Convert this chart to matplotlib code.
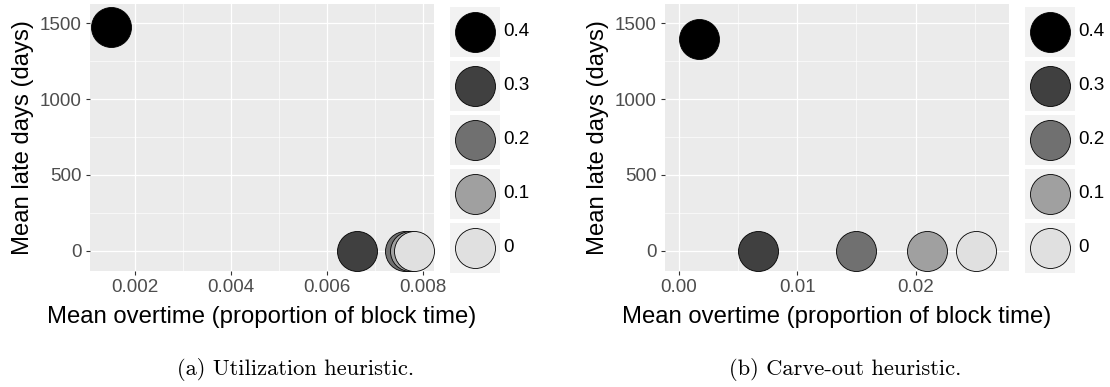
import matplotlib
matplotlib.use("Agg")
import matplotlib.pyplot as plt
from matplotlib.patches import Rectangle

# Data (fill level -> point)
levels = ["0.4", "0.3", "0.2", "0.1", "0"]
fills = ["#000000", "#404040", "#707070", "#A0A0A0", "#E0E0E0"]

util_overtime = [0.0015, 0.00661, 0.00762, 0.00772, 0.0078]
util_late = [1478, 0, 0, 0, 0]

carve_overtime = [0.00169, 0.0067, 0.0150, 0.0210, 0.0251]
carve_late = [1398, 0, 0, 0, 0]

util_xticks = [0.002, 0.004, 0.006, 0.008]
util_xlabels = ["0.002", "0.004", "0.006", "0.008"]
util_xminor = [0.003, 0.005, 0.007]
carve_xticks = [0.00, 0.01, 0.02]
carve_xlabels = ["0.00", "0.01", "0.02"]
carve_xminor = [0.005, 0.015, 0.025]
yticks = [0, 500, 1000, 1500]
yminor = [250, 750, 1250]

captions = ["(a) Utilization heuristic.", "(b) Carve-out heuristic."]

W, H = 1110, 387
plt.rcParams["font.family"] = ["Liberation Sans", "DejaVu Sans"]

fig = plt.figure(figsize=(W / 100, H / 100), dpi=100)
fig.patch.set_facecolor("white")

MS = 829  # marker area in pt^2 (about 40 px across)
TICK_FS = 13.6
TITLE_FS = 17.2


def px_axes(left, top, right, bottom):
    return fig.add_axes([left / W, 1 - bottom / H, (right - left) / W, (bottom - top) / H])


def draw_panel(ax, xs, ys, xticks, xlabels, xminor, xlim):
    ax.set_facecolor("#EBEBEB")
    for s in ax.spines.values():
        s.set_visible(False)
    ax.set_xlim(*xlim)
    ax.set_ylim(-132, 1627)
    ax.set_xticks(xticks)
    ax.set_xticklabels(xlabels)
    ax.set_xticks(xminor, minor=True)
    ax.set_yticks(yticks)
    ax.set_yticks(yminor, minor=True)
    ax.grid(which="major", color="white", linewidth=0.9)
    ax.grid(which="minor", color="white", linewidth=0.45)
    ax.set_axisbelow(True)
    ax.tick_params(which="major", length=3, width=0.8, color="#333333",
                   labelcolor="#4D4D4D", labelsize=TICK_FS, pad=3)
    ax.tick_params(which="minor", length=0)
    for x, y, c in zip(xs, ys, fills):
        ax.scatter([x], [y], s=MS, c=c, edgecolors="black", linewidths=0.6, zorder=3)
    ax.set_xlabel("Mean overtime (proportion of block time)", fontsize=TITLE_FS, labelpad=7)
    ax.set_ylabel("Mean late days (days)", fontsize=TITLE_FS, labelpad=4)


def draw_legend(lax):
    lax.set_xlim(0, 1)
    lax.set_ylim(len(levels) - 4 / 54, 0)
    lax.axis("off")
    for i, (lab, c) in enumerate(zip(levels, fills)):
        lax.add_patch(Rectangle((0, i), 1, 50 / 54, facecolor="#F2F2F2", edgecolor="none"))
        lax.scatter([0.5], [i + 25 / 54], s=MS, c=c, edgecolors="black", linewidths=0.6,
                    clip_on=False)
        lax.text(1.06, i + 25 / 54, lab, fontsize=TICK_FS, color="black",
                 ha="left", va="center")


ax1 = px_axes(90, 4, 434, 270.7)
draw_panel(ax1, util_overtime, util_late, util_xticks, util_xlabels, util_xminor,
           (0.001063, 0.008222))
draw_legend(px_axes(450, 6.7, 500, 272.7))

ax2 = px_axes(665, 4, 1009, 270.7)
draw_panel(ax2, carve_overtime, carve_late, carve_xticks, carve_xlabels, carve_xminor,
           (-0.00118, 0.02789))
draw_legend(px_axes(1025, 6.7, 1075, 272.7))

fig.text(295.5 / W, 1 - 375 / H, captions[0], fontfamily="cmr10", fontsize=16.2,
         ha="center", va="baseline")
fig.text(845.5 / W, 1 - 375 / H, captions[1], fontfamily="cmr10", fontsize=16.2,
         ha="center", va="baseline")

fig.savefig("out.png", dpi=100)
